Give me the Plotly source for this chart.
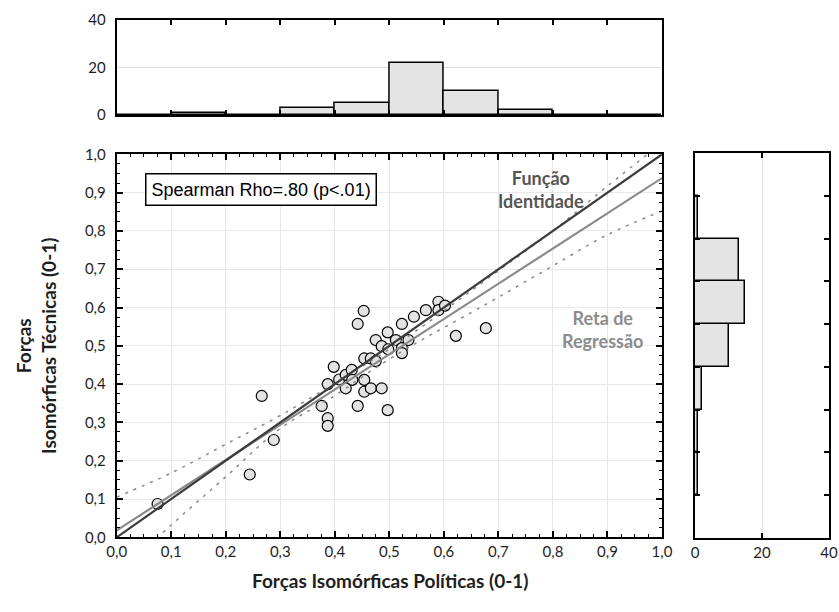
import plotly.graph_objects as go

# ---------------- data ----------------
pol_x = [0.075, 0.244, 0.266, 0.288, 0.376, 0.387, 0.387, 0.387, 0.398, 0.408,
         0.420, 0.420, 0.431, 0.432, 0.442, 0.442, 0.453, 0.454, 0.454, 0.454,
         0.466, 0.466, 0.475, 0.475, 0.486, 0.486, 0.497, 0.497, 0.498, 0.512,
         0.523, 0.523, 0.523, 0.535, 0.545, 0.567, 0.590, 0.590, 0.602, 0.622,
         0.677]
tec_y = [0.087, 0.164, 0.369, 0.254, 0.343, 0.311, 0.291, 0.400, 0.445, 0.412,
         0.424, 0.389, 0.437, 0.411, 0.557, 0.343, 0.591, 0.467, 0.411, 0.380,
         0.467, 0.389, 0.515, 0.460, 0.499, 0.389, 0.535, 0.332, 0.491, 0.515,
         0.557, 0.494, 0.481, 0.515, 0.576, 0.593, 0.615, 0.593, 0.605, 0.526,
         0.546]

identity_x = [0.0, 1.0]
identity_y = [0.0, 1.0]
regression_x = [0.0, 1.0]
regression_y = [0.018, 0.938]

band_x = [0.0, 0.1, 0.2, 0.3, 0.4, 0.48, 0.55, 0.62, 0.7, 0.8, 0.9, 1.0]
band_upper = [0.105, 0.168, 0.243, 0.318, 0.402, 0.473, 0.540, 0.612, 0.696, 0.800, 0.917, 1.03]
band_lower = [-0.10, 0.032, 0.158, 0.284, 0.370, 0.447, 0.508, 0.563, 0.627, 0.709, 0.790, 0.852]

top_bin_left = [0.0, 0.1, 0.2, 0.3, 0.4, 0.5, 0.6, 0.7, 0.8, 0.9]
top_counts = [0, 1, 0, 3, 5, 22, 10, 2, 0, 0]

right_bin_bottom = [0, 1, 2, 3, 4, 5, 6, 7, 8]
right_counts = [0, 1, 1, 2, 10, 15, 13, 1, 0]

main_ticks = [0.0, 0.1, 0.2, 0.3, 0.4, 0.5, 0.6, 0.7, 0.8, 0.9, 1.0]
hist_ticks = [0, 20, 40]

# ---------------- layout helpers ----------------
W, H = 839, 612
def px_x(p):
    return p / W
def px_y(p):
    return 1 - p / H

FONT = "Lato"
TXT = "#1e1e1e"
FILL = "#e4e4e4"

fig = go.Figure()

# scatter points
fig.add_trace(go.Scatter(
    x=pol_x, y=tec_y, mode="markers",
    marker=dict(size=11, color="#e3e3e3", line=dict(color="black", width=1.2)),
    xaxis="x", yaxis="y", showlegend=False, hoverinfo="x+y"))

# confidence bands
for yy in (band_upper, band_lower):
    fig.add_trace(go.Scatter(
        x=band_x, y=yy, mode="lines", line=dict(color="#8a8a8a", width=1.5, dash="3px,6px", shape="spline"),
        xaxis="x", yaxis="y", showlegend=False, hoverinfo="skip"))

# regression and identity lines
fig.add_trace(go.Scatter(
    x=regression_x, y=regression_y, mode="lines", line=dict(color="#8a8a8a", width=2.2),
    xaxis="x", yaxis="y", showlegend=False, hoverinfo="skip"))
fig.add_trace(go.Scatter(
    x=identity_x, y=identity_y, mode="lines", line=dict(color="#3c3c3c", width=2.2),
    xaxis="x", yaxis="y", showlegend=False, hoverinfo="skip"))

# top histogram
fig.add_trace(go.Bar(
    x=top_bin_left, y=top_counts, width=0.1, offset=0,
    marker=dict(color=FILL, line=dict(color="black", width=1.5)),
    xaxis="x2", yaxis="y2", showlegend=False))

# right histogram
fig.add_trace(go.Bar(
    y=right_bin_bottom, x=right_counts, width=1, offset=0, orientation="h",
    marker=dict(color=FILL, line=dict(color="black", width=1.5)),
    xaxis="x3", yaxis="y3", showlegend=False))

frame = dict(showline=True, linecolor="black", linewidth=2, mirror="ticks",
             zeroline=False, ticks="inside", tickcolor="black", tickwidth=1.5,
             automargin=False)

main_dom_x = [px_x(116.7), px_x(662)]
main_dom_y = [px_y(537.3), px_y(154.3)]

fig.update_layout(
    width=W, height=H,
    margin=dict(l=0, r=0, t=0, b=0, autoexpand=False),
    paper_bgcolor="white", plot_bgcolor="white",
    separators=",.",
    font=dict(family=FONT, size=15, color=TXT),
    bargap=0,
    xaxis=dict(domain=main_dom_x, anchor="y", range=[0, 1], tickvals=main_ticks,
               tickformat=".1f", ticklen=6, showgrid=True, gridcolor="#e8e8e8", gridwidth=1,
               minor=dict(ticks="inside", ticklen=3, dtick=0.025, tickcolor="black", tickwidth=1.2, showgrid=False),
               tickfont=dict(size=15, color=TXT), ticklabelstandoff=0, **frame),
    yaxis=dict(domain=main_dom_y, anchor="x", range=[0, 1], tickvals=main_ticks,
               tickformat=".1f", ticklen=6, showgrid=True, gridcolor="#e8e8e8", gridwidth=1,
               minor=dict(ticks="inside", ticklen=3, dtick=0.025, tickcolor="black", tickwidth=1.2, showgrid=False),
               tickfont=dict(size=15, color=TXT), ticklabelstandoff=6, **frame),
    xaxis2=dict(domain=main_dom_x, anchor="y2", range=[0, 1], tickvals=main_ticks,
                showticklabels=False, ticklen=5, showgrid=False, **frame),
    yaxis2=dict(domain=[px_y(115), px_y(20)], anchor="x2", range=[0, 40], tickvals=hist_ticks,
                ticklen=0, showgrid=True, gridcolor="#e0e0e0",
                tickfont=dict(size=15, color=TXT), ticklabelstandoff=6, **frame),
    xaxis3=dict(domain=[px_x(695), px_x(829)], anchor="y3", range=[0, 40], tickvals=hist_ticks,
                ticklen=5, showgrid=True, gridcolor="#e0e0e0",
                tickfont=dict(size=15, color=TXT), ticklabelstandoff=0, **frame),
    yaxis3=dict(domain=[px_y(538), px_y(153)], anchor="x3", range=[0, 9], dtick=1, tick0=0,
                showticklabels=False, ticklen=5, showgrid=False, **frame),
)

ann = [
    dict(x=px_x(261.3), y=px_y(189.5), text="Spearman Rho=.80 (p<.01)",
         font=dict(family="Liberation Sans", size=18, color="black"),
         bordercolor="black", borderwidth=1.5, bgcolor="white", borderpad=5),
    dict(x=px_x(541), y=px_y(189), text="<b>Função<br>Identidade</b>",
         font=dict(family=FONT, size=18, color="#555555")),
    dict(x=px_x(602), y=px_y(329), text="<b>Reta de<br>Regressão</b>",
         font=dict(family=FONT, size=18, color="#8c8c8c")),
    dict(x=px_x(390), y=px_y(580), text="<b>Forças Isomórficas Políticas (0-1)</b>",
         font=dict(family=FONT, size=19, color=TXT)),
    dict(x=px_x(36), y=px_y(346), text="<b>Forças<br>Isomórficas Técnicas (0-1)</b>",
         textangle=-90, font=dict(family=FONT, size=19, color=TXT)),
]
for a in ann:
    a.update(xref="paper", yref="paper", showarrow=False, xanchor="center", yanchor="middle")
fig.update_layout(annotations=ann)

fig.write_html("out.html")
